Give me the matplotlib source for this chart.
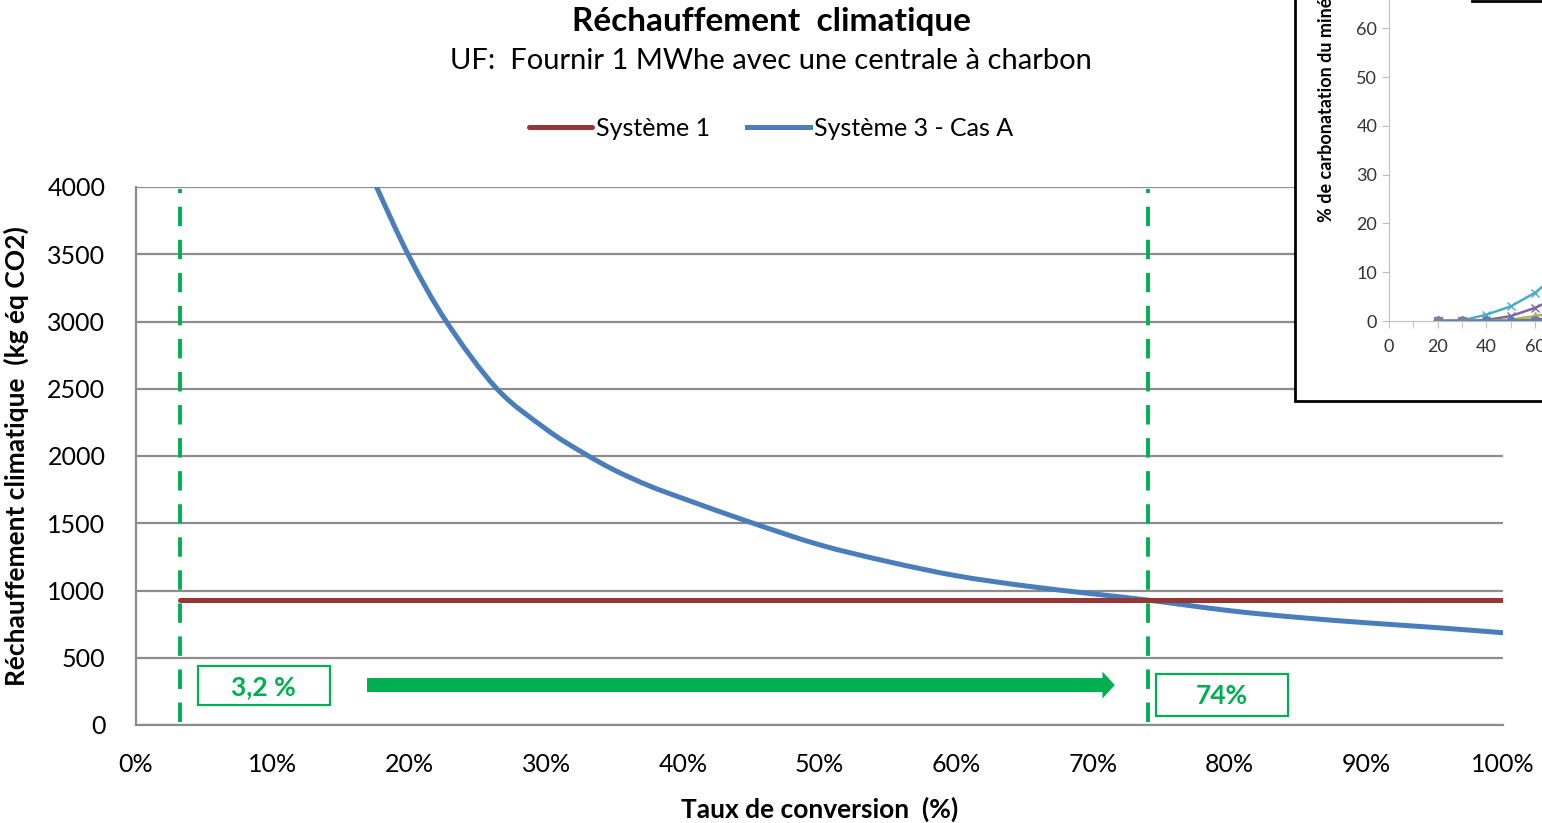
import numpy as np
import matplotlib.pyplot as plt
from matplotlib.patches import Rectangle, FancyArrow, PathPatch
from matplotlib.path import Path

plt.rcParams["font.family"] = ["Lato", "DejaVu Sans"]

# Système 1: constant value over the conversion range
sys1_x = [3.2, 100]
sys1_y = [929, 929]

# Système 3 - Cas A
sys3_x = [16, 17.6, 20, 22.7, 26.4, 30, 32.6, 35, 37.5, 40, 45, 50, 55, 60,
          65, 70, 74, 80, 85, 90, 95, 100]
sys3_y = [4380, 4000, 3480, 3000, 2500, 2200, 2030, 1895, 1780, 1685, 1505,
          1340, 1215, 1110, 1035, 975, 929, 850, 800, 760, 725, 686]

# markers for the two thresholds
thresholds = [3.2, 74]
threshold_labels = ["3,2 %", "74%"]

x_ticks = list(range(0, 101, 10))
y_ticks = list(range(0, 4001, 500))

# inset (other chart, partly cut off)
inset_x = [20, 30, 40, 50, 60, 70]
inset_cyan = [0, 0.1, 1.3, 3.0, 5.8, 10]
inset_purple = [0, 0, 0.2, 1.0, 2.7, 5]
inset_green = [0, 0, 0, 0.3, 1.0, 2]
inset_red = [0, 0, 0, 0, 0.3, 0.8]
inset_blue = [0, 0, 0, 0, 0.1, 0.3]

W, H = 1542, 823
fig = plt.figure(figsize=(W / 100, H / 100), dpi=100)


def fx(px):
    return px / W


def fy(py):
    return 1 - py / H


def smooth_path(xs, ys):
    # Excel-style smoothed line: Catmull-Rom segments as cubic Beziers
    pts = np.column_stack([xs, ys]).astype(float)
    verts = [pts[0]]
    codes = [Path.MOVETO]
    n = len(pts)
    for i in range(n - 1):
        p0 = pts[max(i - 1, 0)]
        p1 = pts[i]
        p2 = pts[i + 1]
        p3 = pts[min(i + 2, n - 1)]
        verts += [p1 + (p2 - p0) / 6, p2 - (p3 - p1) / 6, p2]
        codes += [Path.CURVE4] * 3
    return Path(verts, codes)


green = "#00B050"
grid_col = "#8C8C8C"

ax = fig.add_axes([fx(136), fy(725), fx(1503) - fx(136), fy(187) - fy(725)])
ax.set_xlim(0, 100)
ax.set_ylim(0, 4000)
ax.set_yticks(y_ticks)
ax.set_xticks(x_ticks)
ax.set_xticklabels([f"{v}%" for v in x_ticks])
ax.grid(axis="y", color=grid_col, lw=1.6)
ax.set_axisbelow(True)
for s in ["top", "right"]:
    ax.spines[s].set_visible(False)
for s in ["left", "bottom"]:
    ax.spines[s].set_color(grid_col)
    ax.spines[s].set_linewidth(1.6)
ax.tick_params(length=0, labelsize=18, colors="black")
ax.tick_params(axis="y", pad=22)
ax.tick_params(axis="x", pad=20)

ax.plot(sys1_x, sys1_y, color="#953735", lw=3.6, solid_capstyle="round",
        label="Système 1")
ax.add_patch(PathPatch(smooth_path(sys3_x, sys3_y), fill=False, ec="#4A7EBB",
                       lw=3.6, capstyle="round"))
# proxy for the legend entry
ax.plot([], [], color="#4A7EBB", lw=3.6, label="Système 3 - Cas A")

ax.vlines(thresholds, 20, 3985, colors=green, lw=2.8, linestyles=(0, (5, 3.5)))

# label boxes
boxes = [(4.5, 149, 9.7, 290), (74.6, 67, 9.7, 312)]
for (bx, by, bw, bh), lab in zip(boxes, threshold_labels):
    ax.add_patch(Rectangle((bx, by), bw, bh, fill=False, ec=green, lw=1.6))
    ax.text(bx + bw / 2, by + bh / 2 - 10, lab, color=green, fontsize=19,
            fontweight="bold", ha="center", va="center")

ax.add_patch(FancyArrow(16.9, 297, 71.6 - 16.9, 0, width=104, head_width=200,
                        head_length=0.9, length_includes_head=True,
                        color=green, lw=0))

ax.set_ylabel("Réchauffement climatique  (kg éq CO2)", fontsize=19,
              fontweight="bold", labelpad=13)
ax.set_xlabel("Taux de conversion  (%)", fontsize=19, fontweight="bold",
              labelpad=15)

fig.text(0.5, fy(22), "Réchauffement  climatique", ha="center", va="center",
         fontsize=24, fontweight="bold")
fig.text(0.5, fy(61), "UF:  Fournir 1 MWhe avec une centrale à charbon",
         ha="center", va="center", fontsize=21)
fig.legend(loc="center", bbox_to_anchor=(0.5, fy(128)), ncol=2, frameon=False,
           fontsize=18, handlelength=2.5, handletextpad=0.15,
           columnspacing=1.5)

# inset from another chart, cut off at the figure edge
fig.patches.append(Rectangle((fx(1295), fy(401)), 1, 1, transform=fig.transFigure,
                             fc="white", ec="black", lw=2, zorder=5))
iax = fig.add_axes([fx(1389), fy(321), 100 * 2.435 / W, 70 * 4.88 / H],
                   zorder=6)
iax.set_xlim(0, 100)
iax.set_ylim(0, 70)
iax.set_xticks([0, 20, 40, 60, 80])
iax.set_yticks([0, 10, 20, 30, 40, 50, 60])
iax.set_xticks([10, 30, 50, 70], minor=True)
for s in ["top", "right"]:
    iax.spines[s].set_visible(False)
for s in ["left", "bottom"]:
    iax.spines[s].set_color("#BFBFBF")
iax.tick_params(labelsize=13, colors="#BFBFBF", labelcolor="#333333",
                direction="out", length=5)
iax.tick_params(which="minor", colors="#BFBFBF", length=5)
iax.tick_params(axis="x", pad=8)
iax.plot(inset_x, inset_cyan, color="#4BACC6", marker="x", ms=6, lw=1.8)
iax.plot(inset_x, inset_purple, color="#8064A2", marker="x", ms=6, lw=1.8)
iax.plot(inset_x, inset_green, color="#9BBB59", marker="^", ms=6, lw=1.8)
iax.plot(inset_x, inset_red, color="#C0504D", marker="s", ms=5, lw=1.8)
iax.plot(inset_x, inset_blue, color="#4F81BD", marker="D", ms=5, lw=1.8)
iax.plot([20, 30], [0, 0], color="#7F7F9F", marker="s", ms=6, lw=0)
fig.text(fx(1326), fy(222), "% de carbonatation du minéral", rotation=90,
         ha="center", va="bottom", fontsize=13, fontweight="bold", zorder=7)
fig.add_artist(plt.Line2D([fx(1472), 1], [fy(1), fy(1)], color="black", lw=2,
                          transform=fig.transFigure, zorder=7))

fig.savefig("out.png", dpi=100, facecolor="white")
